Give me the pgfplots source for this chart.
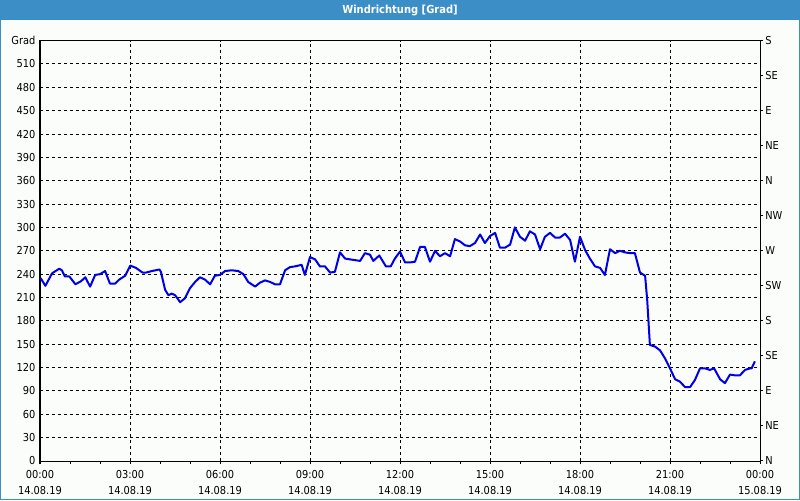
\documentclass[border=0pt]{standalone}
\usepackage{fontspec}
\setmainfont{DejaVu Sans Condensed}
\usepackage{pgfplots}
\pgfplotsset{compat=1.18}
\definecolor{barblue}{RGB}{60,143,198}
\definecolor{bg}{RGB}{251,253,251}
\definecolor{lineblue}{RGB}{0,0,230}
\begin{document}
\begin{tikzpicture}[x=1pt,y=1pt]
\fill[barblue] (0,0) rectangle (600,375);
\fill[bg] (0.75,0.75) rectangle (599.25,360);
\node[text=white,font=\bfseries\fontsize{8.3}{9.6}\selectfont] at (300,366.8) {Windrichtung [Grad]};
\begin{axis}[
  at={(30pt,29.25pt)}, anchor=south west,
  scale only axis, width=540pt, height=315.3pt,
  xmin=0, xmax=24, ymin=0, ymax=540,
  axis line style={black, line width=0.75pt},
  tick align=outside,
  major tick length=2.25pt, minor tick length=2.25pt,
  xtick={0,3,...,24},
  minor x tick num=2,
  xtick pos=left,
  xtick style={black, line width=0.75pt},
  ytick={0,30,...,540},
  yticklabels={0,30,60,90,120,150,180,210,240,270,300,330,360,390,420,450,480,510,Grad},
  ytick pos=left,
  ytick style={draw=none},
  yticklabel style={font=\fontsize{8.2}{10}\selectfont, inner sep=0pt, xshift=-1pt},
  xticklabels={{00:00\\14.08.19},{03:00\\14.08.19},{06:00\\14.08.19},{09:00\\14.08.19},{12:00\\14.08.19},{15:00\\14.08.19},{18:00\\14.08.19},{21:00\\14.08.19},{00:00\\15.08.19}},
  xticklabel style={font=\fontsize{8.2}{11.5}\selectfont, align=center, yshift=-1.5pt},
  grid=major,
  major grid style={black, line width=0.75pt, dash pattern=on 2.25pt off 2.25pt},
  /pgf/number format/assume math mode=true,
]
\addplot[lineblue, line width=1.5pt, line join=round, mark=none] coordinates {
(0.02,235) (0.18,225) (0.40,241) (0.64,247) (0.73,245) (0.83,237) (0.98,237)
(1.18,227) (1.37,231) (1.51,236) (1.67,224) (1.84,239) (2.00,240) (2.17,244)
(2.33,228) (2.51,228) (2.64,233) (2.84,238) (3.01,251) (3.20,248) (3.42,242)
(3.53,242) (3.73,244) (3.98,246) (4.03,243) (4.17,220) (4.28,213) (4.39,215)
(4.50,213) (4.58,209) (4.67,204) (4.83,209) (5.00,222) (5.17,230) (5.33,236)
(5.50,233) (5.67,227) (5.83,238) (6.00,239) (6.17,244) (6.39,245) (6.61,244)
(6.78,240) (6.94,230) (7.17,224) (7.33,229) (7.50,232) (7.67,230) (7.83,227)
(8.00,227) (8.17,245) (8.33,249) (8.50,250) (8.72,252) (8.83,239) (9.00,262)
(9.17,259) (9.33,250) (9.50,250) (9.67,242) (9.83,243) (10.00,268) (10.17,260)
(10.33,259) (10.50,258) (10.67,257) (10.83,267) (11.00,265) (11.11,257) (11.31,264)
(11.53,250) (11.69,250) (11.83,260) (12.00,269) (12.17,255) (12.33,255) (12.50,256)
(12.67,275) (12.83,275) (13.00,256) (13.17,270) (13.33,263) (13.50,267) (13.67,263)
(13.83,285) (14.00,282) (14.17,277) (14.33,276) (14.50,280) (14.67,291) (14.83,280)
(15.00,289) (15.17,293) (15.33,274) (15.50,274) (15.67,278) (15.83,300) (16.00,288)
(16.17,283) (16.33,295) (16.50,291) (16.67,272) (16.83,288) (17.00,293) (17.17,287)
(17.33,287) (17.50,292) (17.67,284) (17.83,256) (18.00,288) (18.17,271) (18.33,260)
(18.50,250) (18.67,248) (18.83,239) (19.00,272) (19.17,267) (19.33,270) (19.50,268)
(19.67,267) (19.83,267) (20.00,242) (20.17,238) (20.24,207) (20.28,181) (20.33,149)
(20.50,147) (20.67,142) (20.83,132) (21.00,119) (21.17,105) (21.33,102) (21.50,95)
(21.67,95) (21.83,104) (22.00,119) (22.17,119) (22.33,117) (22.47,119) (22.67,105)
(22.83,100) (23.00,111) (23.17,110) (23.33,110) (23.50,117) (23.67,119) (23.72,119)
(23.83,128)
};
\end{axis}
\begin{axis}[
  at={(30pt,29.25pt)}, anchor=south west,
  scale only axis, width=540pt, height=315.3pt,
  xmin=0, xmax=24, ymin=0, ymax=540,
  axis x line=none,
  axis y line*=right,
  axis line style={black, line width=0.75pt, -},
  tick align=outside,
  major tick length=2.25pt,
  ytick={0,45,...,540},
  yticklabels={N,NE,E,SE,S,SW,W,NW,N,NE,E,SE,S},
  ytick style={black, line width=0.75pt},
  yticklabel style={font=\fontsize{8.2}{10}\selectfont, inner sep=0pt, xshift=1.5pt},
]
\end{axis}
\end{tikzpicture}
\end{document}
